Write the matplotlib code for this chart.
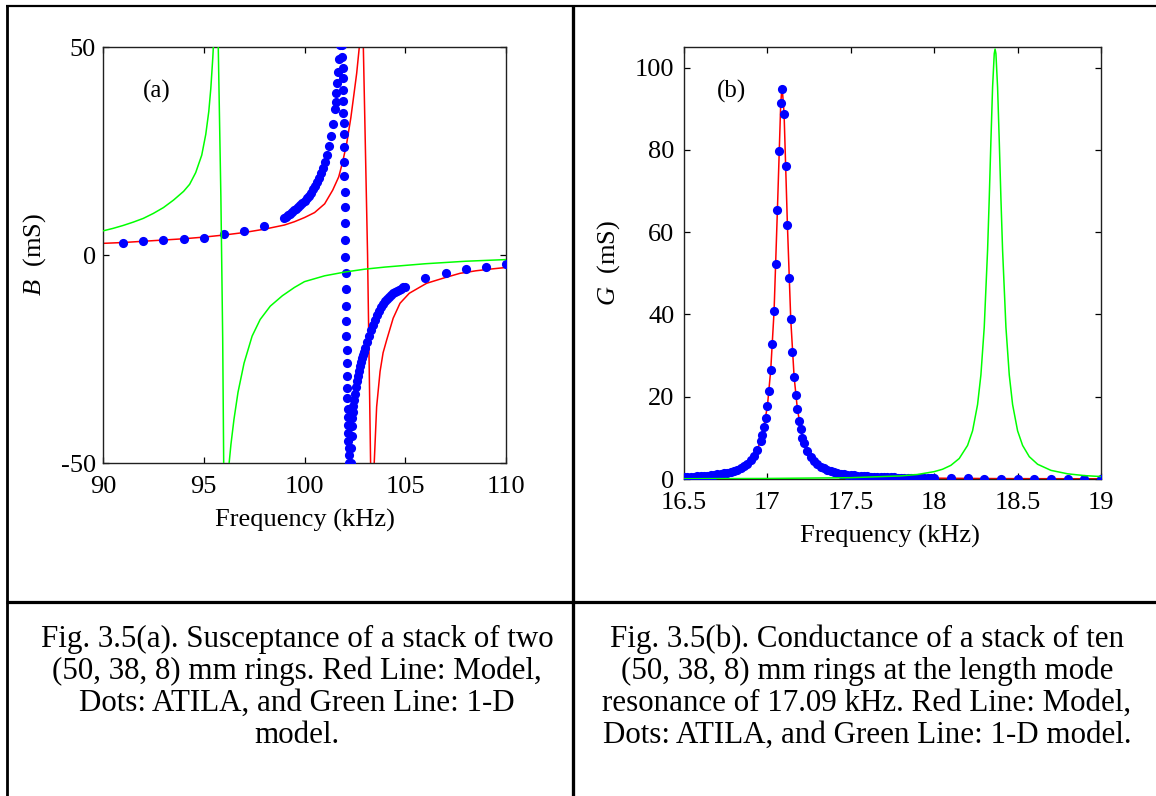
import matplotlib
matplotlib.use("Agg")
import matplotlib.pyplot as plt
from matplotlib.lines import Line2D

plt.rcParams['font.family'] = ['Liberation Serif', 'DejaVu Serif']
plt.rcParams['mathtext.fontset'] = 'custom'
plt.rcParams['mathtext.rm'] = 'Liberation Serif'
plt.rcParams['mathtext.it'] = 'Liberation Serif:italic'
plt.rcParams['axes.unicode_minus'] = False

# ---------------- data: panel (a) susceptance ----------------
red_a_f = [90, 91, 92, 93, 94, 95, 96, 97, 98, 99, 99.5, 100, 100.5, 101, 101.4,
           101.7, 101.9, 102.1, 102.3, 102.45, 102.59, 102.72, 102.8, 102.86, 102.92,
           103.13, 103.28, 103.34, 103.40, 103.46, 103.58, 103.75, 103.9, 104.08,
           104.4, 104.74, 105.2, 105.7, 106.06, 107, 107.72, 108.5, 109.2, 110]
red_a_B = [2.8, 3.0, 3.3, 3.6, 3.9, 4.3, 4.8, 5.4, 6.2, 7.2, 8.0, 9.0, 10.2, 12.3, 15.6,
           18.8, 22.5, 27.0, 33.0, 38.5, 43.7, 50.0, 54.0, 55.0, 50.0,
           0.0, -50.0, -55.0, -54.0, -50.0, -36.5, -28.0, -23.5, -20.4,
           -15.2, -11.6, -9.2, -7.8, -6.8, -5.4, -4.4, -3.8, -3.4, -3.0]

green_a_f = [90, 90.5, 91, 91.5, 92, 92.5, 93, 93.5, 94, 94.3, 94.6, 94.9, 95.1, 95.25,
             95.35, 95.45, 95.55, 95.62, 95.72, 95.85, 95.94, 95.99, 96.1, 96.2, 96.26,
             96.35, 96.5, 96.7, 97.0, 97.4, 97.8, 98.3, 98.9, 99.5, 100, 101, 102, 103,
             104, 105, 106, 107, 108, 109, 110]
green_a_B = [5.8, 6.4, 7.1, 7.9, 8.8, 10.0, 11.4, 13.2, 15.3, 17.0, 19.8, 24.0, 29.0, 34.5,
             40.0, 47.5, 57.0, 60.0, 50.0, 14.0, -20.0, -50.0, -66.0, -56.0, -50.0,
             -45.5, -39.5, -33.0, -26.0, -19.5, -15.5, -12.3, -9.8, -7.8, -6.4, -5.0, -4.1, -3.4,
             -2.9, -2.5, -2.1, -1.8, -1.5, -1.3, -1.1]

atila_a_f = [91, 92, 93, 94, 95, 96, 97, 98,
             99.0, 99.1, 99.2, 99.3, 99.4, 99.5, 99.6, 99.7, 99.8, 99.9,
             100.0, 100.1, 100.2, 100.3, 100.4, 100.5, 100.6, 100.7, 100.8, 100.9,
             101.0, 101.1, 101.2, 101.3, 101.4, 101.5, 101.54, 101.58, 101.62, 101.66,
             101.70, 101.74, 101.78, 101.81, 101.84, 101.86,
             101.87, 101.88, 101.89, 101.90, 101.91, 101.92, 101.93, 101.94, 101.95, 101.96,
             101.97, 101.98, 101.99, 102.00, 102.01, 102.02, 102.03, 102.04, 102.05, 102.06,
             102.07, 102.08, 102.09, 102.10, 102.11, 102.12, 102.13, 102.14, 102.15, 102.16,
             102.17, 102.18, 102.19, 102.20, 102.21, 102.22, 102.24, 102.26, 102.28, 102.30,
             102.32, 102.34, 102.36, 102.38, 102.40, 102.43, 102.46, 102.50, 102.55, 102.60,
             102.65, 102.70, 102.75, 102.80, 102.85, 102.90, 102.95, 103.00, 103.10, 103.20,
             103.30, 103.40, 103.50, 103.60, 103.70, 103.80, 103.90, 104.00, 104.10, 104.20,
             104.30, 104.40, 104.50, 104.60, 104.70, 104.80, 104.90, 105.00,
             106, 107, 108, 109, 110]
atila_a_B = [3.0, 3.3, 3.6, 3.9, 4.2, 5.0, 5.7, 7.0,
             8.9, 9.2, 9.5, 9.9, 10.3, 10.7, 11.1, 11.6, 12.1, 12.6,
             13.1, 13.7, 14.3, 15.0, 15.8, 16.6, 17.5, 18.5, 19.6, 20.9,
             22.4, 24.1, 26.1, 28.5, 31.4, 35.0, 36.8, 38.9, 41.3, 44.0,
             47.1, 50.6, 54.5, 58.0, 59.0, 55.0,
             50.5, 47.5, 45.0, 42.5, 39.7, 36.9, 34.1, 31.7, 29.0, 26.0,
             22.4, 19.0, 15.2, 11.6, 7.6, 3.6, -0.4, -4.4, -8.2, -12.2,
             -15.9, -19.4, -22.8, -26.0, -29.1, -31.9, -34.4, -36.9, -38.9, -40.9,
             -42.8, -44.6, -46.3, -48.0, -50.0, -52.0, -56.0, -57.0, -53.0, -50.0,
             -46.5, -43.5, -41.0, -39.2, -37.8, -36.2, -34.8, -33.3, -31.7, -30.3,
             -29.0, -27.8, -26.7, -25.7, -24.8, -24.0, -23.2, -22.4, -20.9, -19.5,
             -18.1, -16.8, -15.6, -14.5, -13.5, -12.6, -11.8, -11.1, -10.5, -10.0,
             -9.6, -9.2, -8.9, -8.6, -8.3, -8.1, -7.8, -7.6,
             -5.6, -4.4, -3.4, -3.0, -2.2]

# ---------------- data: panel (b) conductance ----------------
red_b_f = [16.50, 16.60, 16.70, 16.80, 16.86, 16.90, 16.94, 16.97, 17.00, 17.02, 17.04,
           17.06, 17.08, 17.088, 17.10, 17.12, 17.14, 17.16, 17.18, 17.21, 17.24, 17.28,
           17.34, 17.40, 17.50, 17.60, 17.80, 18.00, 18.40, 19.00]
red_b_G = [0.48, 0.70, 1.10, 1.98, 3.1, 4.5, 7.1, 10.7, 17.7, 26.5, 40.8,
           65.4, 91.3, 95.5, 88.8, 61.7, 38.8, 24.9, 16.9, 10.05, 6.73, 4.33,
           2.57, 1.69, 0.98, 0.63, 0.33, 0.20, 0.10, 0.05]

green_b_f = [16.5, 17.0, 17.5, 17.8, 17.9, 18.0, 18.05, 18.1, 18.15, 18.2, 18.23, 18.26,
             18.28, 18.30, 18.32, 18.33, 18.34, 18.35, 18.36, 18.365, 18.37, 18.38, 18.39,
             18.40, 18.41, 18.43, 18.45, 18.47, 18.50, 18.53, 18.57, 18.62, 18.7, 18.8,
             18.9, 19.0]
green_b_G = [0.07, 0.13, 0.32, 0.75, 1.10, 1.79, 2.37, 3.32, 4.98, 8.16, 11.7, 18.1,
             25.3, 36.9, 55.6, 68.2, 82.2, 95.2, 103.4, 104.5, 103.4, 95.2, 82.2,
             68.2, 55.6, 36.9, 25.3, 18.1, 11.7, 8.16, 5.43, 3.58, 2.10, 1.26,
             0.83, 0.59]

atila_b_f = [16.50, 16.52, 16.54, 16.56, 16.58, 16.60, 16.62, 16.64, 16.66, 16.68,
             16.70, 16.72, 16.74, 16.76, 16.78, 16.80, 16.82, 16.84, 16.86, 16.88,
             16.90, 16.92, 16.94, 16.96, 16.97, 16.98, 16.99,
             17.00, 17.01, 17.02, 17.03, 17.04, 17.05, 17.06, 17.07, 17.08, 17.09,
             17.10, 17.11, 17.12, 17.13, 17.14, 17.15, 17.16, 17.17, 17.18, 17.19,
             17.20, 17.21, 17.22, 17.24, 17.26, 17.28, 17.30, 17.32, 17.34, 17.36,
             17.38, 17.40, 17.42, 17.44, 17.46, 17.48, 17.50, 17.52, 17.54, 17.56,
             17.58, 17.60, 17.62, 17.64, 17.66, 17.68, 17.70, 17.72, 17.74, 17.76,
             17.78, 17.80, 17.82, 17.84, 17.86, 17.88, 17.90, 17.92, 17.94, 17.96,
             17.98, 18.00,
             18.1, 18.2, 18.3, 18.4, 18.5, 18.6, 18.7, 18.8, 18.9, 19.0]
atila_b_G = [0.48, 0.52, 0.55, 0.60, 0.64, 0.70, 0.76, 0.83, 0.91, 1.00,
             1.10, 1.22, 1.36, 1.53, 1.73, 1.98, 2.28, 2.65, 3.12, 3.72,
             4.51, 5.58, 7.07, 9.22, 10.67, 12.7, 14.9,
             17.7, 21.4, 26.5, 32.9, 40.8, 52.2, 65.4, 79.8, 91.3, 94.9,
             88.8, 76.0, 61.7, 48.8, 38.8, 30.8, 24.9, 20.3, 16.9, 14.2,
             12.1, 10.05, 8.72, 6.73, 5.34, 4.33, 3.58, 3.01, 2.57, 2.21,
             1.92, 1.69, 1.50, 1.33, 1.20, 1.08, 0.98, 0.89, 0.81, 0.75,
             0.69, 0.63, 0.59, 0.55, 0.51, 0.48, 0.45, 0.42, 0.39, 0.37,
             0.35, 0.33, 0.31, 0.30, 0.28, 0.27, 0.25, 0.24, 0.23, 0.22,
             0.21, 0.20,
             0.17, 0.14, 0.11, 0.10, 0.08, 0.07, 0.06, 0.06, 0.05, 0.05]

xticks_a = [90, 95, 100, 105, 110]
yticks_a = [-50, 0, 50]
xticks_b = [16.5, 17, 17.5, 18, 18.5, 19]
xticklabels_b = ["16.5", "17", "17.5", "18", "18.5", "19"]
yticks_b = [0, 20, 40, 60, 80, 100]

caption_a = ["Fig. 3.5(a). Susceptance of a stack of two",
             "(50, 38, 8) mm rings. Red Line: Model,",
             "Dots: ATILA, and Green Line: 1-D",
             "model."]
caption_b = ["Fig. 3.5(b). Conductance of a stack of ten",
             "(50, 38, 8) mm rings at the length mode",
             "resonance of 17.09 kHz. Red Line: Model,",
             "Dots: ATILA, and Green Line: 1-D model."]

# ---------------- figure ----------------
W, H = 1156, 796
fig = plt.figure(figsize=(W / 100, H / 100), dpi=100)
fig.patch.set_facecolor("white")


def rect(l, t, r, b):
    return [l / W, 1 - b / H, (r - l) / W, (b - t) / H]


RED = (1.0, 0.0, 0.0)
GREEN = (0.0, 1.0, 0.0)
BLUE = (0.0, 0.0, 1.0)
FS = 19
MS = 6.6


def style(ax, ypad):
    for s in ax.spines.values():
        s.set_linewidth(1.0)
        s.set_color("#202020")
    ax.tick_params(direction="in", top=True, right=True, length=4, width=0.9,
                   labelsize=FS, colors="black")
    ax.tick_params(axis="x", pad=9.5)
    ax.tick_params(axis="y", pad=ypad)


# panel (a)
axA = fig.add_axes(rect(103, 47, 506, 463))
axA.plot(red_a_f, red_a_B, color=RED, lw=1.1, zorder=2)
axA.plot(atila_a_f, atila_a_B, linestyle="none", marker="o", ms=MS,
         color=BLUE, mec="none", zorder=3)
axA.plot(green_a_f, green_a_B, color=GREEN, lw=1.1, zorder=4)
axA.set_xlim(90, 110)
axA.set_ylim(-50, 50)
axA.set_xticks(xticks_a)
axA.set_yticks(yticks_a)
style(axA, 5.0)
axA.set_xlabel("Frequency (kHz)", fontsize=FS, va="center")
axA.xaxis.set_label_coords(0.5, -0.137)
axA.set_ylabel(r"$B$  (mS)", fontsize=FS, va="center")
axA.yaxis.set_label_coords(-0.169, 0.5)
axA.text(0.133, 0.894, "(a)", transform=axA.transAxes, fontsize=18,
         ha="center", va="center")

# panel (b)
axB = fig.add_axes(rect(684, 47, 1101, 479))
axB.plot(red_b_f, red_b_G, color=RED, lw=1.1, zorder=2)
axB.plot(atila_b_f, atila_b_G, linestyle="none", marker="o", ms=MS,
         color=BLUE, mec="none", zorder=3)
axB.plot(green_b_f, green_b_G, color=GREEN, lw=1.1, zorder=4)
axB.set_xlim(16.5, 19)
axB.set_ylim(0, 105)
axB.set_xticks(xticks_b)
axB.set_xticklabels(xticklabels_b)
axB.set_yticks(yticks_b)
style(axB, 7.0)
axB.set_xlabel("Frequency (kHz)", fontsize=FS, va="center")
axB.xaxis.set_label_coords(0.494, -0.134)
axB.set_ylabel(r"$G$  (mS)", fontsize=FS, va="center")
axB.yaxis.set_label_coords(-0.182, 0.5)
axB.text(0.113, 0.896, "(b)", transform=axB.transAxes, fontsize=18,
         ha="center", va="center")

# ---------------- table rules ----------------
def hline(y, x0, x1, lw_px):
    fig.add_artist(Line2D([x0 / W, x1 / W], [1 - y / H, 1 - y / H],
                          transform=fig.transFigure, color="black",
                          lw=lw_px * 0.72, solid_capstyle="butt"))


def vline(x, y0, y1, lw_px):
    fig.add_artist(Line2D([x / W, x / W], [1 - y0 / H, 1 - y1 / H],
                          transform=fig.transFigure, color="black",
                          lw=lw_px * 0.72, solid_capstyle="butt"))


hline(5.7, 5.5, W, 2.2)
vline(7.0, 4.5, H, 2.8)
vline(573.4, 4.5, H, 3.3)
hline(601.5, 5.5, W, 3.2)

# ---------------- captions ----------------
CAP_FS = 22.3
ys = [647, 679, 711, 743]
for line, y in zip(caption_a, ys):
    fig.text(297 / W, 1 - y / H, line, fontsize=CAP_FS, ha="center", va="baseline")
for line, y in zip(caption_b, ys):
    fig.text(867 / W, 1 - y / H, line, fontsize=CAP_FS, ha="center", va="baseline")

fig.savefig("out.png", dpi=100)
